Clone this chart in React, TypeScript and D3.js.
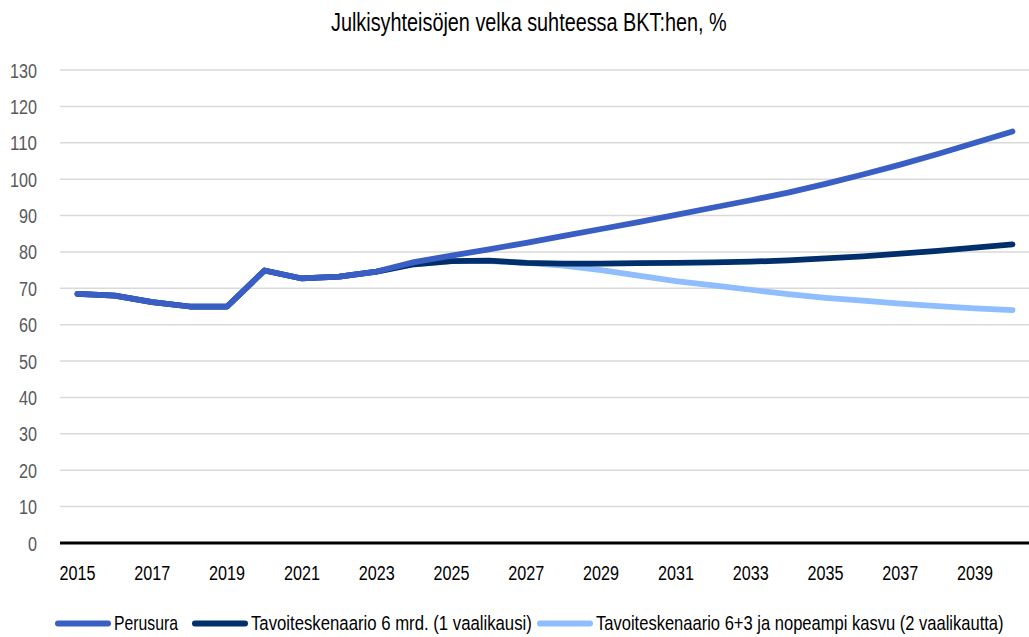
import React, { useEffect, useRef } from "react";
import * as d3 from "d3";

const years = d3.range(2015, 2041);
const yTicks = [0, 10, 20, 30, 40, 50, 60, 70, 80, 90, 100, 110, 120, 130];
const xTickYears = [2015, 2017, 2019, 2021, 2023, 2025, 2027, 2029, 2031, 2033, 2035, 2037, 2039];

// Perusura
const perusura = [
  68.5, 68.0, 66.2, 65.0, 65.0, 74.9, 72.7, 73.2, 74.6, 77.2, 79.0, 80.7, 82.5,
  84.4, 86.3, 88.2, 90.2, 92.2, 94.2, 96.3, 98.7, 101.3, 104.0, 106.9, 110.0, 113.1,
];
// Tavoiteskenaario 6 mrd.
const tavoite6 = [
  68.5, 68.0, 66.2, 65.0, 65.0, 74.9, 72.7, 73.2, 74.6, 76.6, 77.5, 77.6, 77.0,
  76.8, 76.8, 76.9, 77.0, 77.1, 77.3, 77.7, 78.2, 78.8, 79.5, 80.3, 81.2, 82.1,
];
// Tavoiteskenaario 6+3 ja nopeampi kasvu
const tavoite63 = [
  68.5, 68.0, 66.2, 65.0, 65.0, 74.9, 72.7, 73.2, 74.6, 76.6, 77.5, 77.5, 77.0,
  76.2, 75.0, 73.5, 72.0, 70.8, 69.6, 68.4, 67.4, 66.6, 65.8, 65.1, 64.5, 64.0,
];

const seriesNames = [
  "Perusura",
  "Tavoiteskenaario 6 mrd. (1 vaalikausi)",
  "Tavoiteskenaario 6+3 ja nopeampi kasvu (2 vaalikautta)",
];
const colors = ["#3a5fc4", "#002f6c", "#8fbdfd"];

const W = 1029;
const H = 637;
const font = "'Liberation Sans', Arial, sans-serif";

// squeeze a text horizontally to a target width (the original uses a condensed face)
function condensed(g, str, x, y, size, width, fill) {
  const t = g
    .append("text")
    .attr("font-size", size)
    .attr("fill", fill)
    .text(str);
  const w = t.node().getComputedTextLength() || width;
  t.attr("transform", `translate(${x},${y}) scale(${width / w},1)`);
  return t;
}

function App() {
  const svgRef = useRef(null);

  useEffect(() => {
    const svg = d3.select(svgRef.current);
    svg.selectAll("*").remove();

    const x = d3.scalePoint().domain(years.map(String)).range([77.5, 1012.5]);
    const y = d3.scaleLinear().domain([0, 130]).range([543, 70]);

    // title
    condensed(svg, "Julkisyhteisöjen velka suhteessa BKT:hen, %", 331, 30.5, 26, 396, "#000");

    // gridlines
    svg
      .append("g")
      .selectAll("line")
      .data(yTicks.filter((d) => d > 0))
      .join("line")
      .attr("x1", 60)
      .attr("x2", W)
      .attr("y1", (d) => y(d))
      .attr("y2", (d) => y(d))
      .attr("stroke", "#d9d9d9")
      .attr("stroke-width", 1.5);

    // y labels
    const yl = svg.append("g");
    yTicks.forEach((d) => {
      const n = String(d).length;
      condensed(yl, String(d), 37 - n * 9, y(d) + 7.5, 21, n * 9, "#595959");
    });

    // x axis line
    svg
      .append("line")
      .attr("x1", 60)
      .attr("x2", W)
      .attr("y1", y(0))
      .attr("y2", y(0))
      .attr("stroke", "#000")
      .attr("stroke-width", 3);

    // x labels
    const xl = svg.append("g");
    xTickYears.forEach((d) => {
      condensed(xl, String(d), x(String(d)) - 18, 579.5, 20.5, 36, "#000");
    });

    const line = d3
      .line<number>()
      .x((d, i) => x(String(years[i])))
      .y((d) => y(d));

    const all = [perusura, tavoite6, tavoite63];
    [2, 1, 0].forEach((k) => {
      svg
        .append("path")
        .attr("d", line(all[k]))
        .attr("fill", "none")
        .attr("stroke", colors[k])
        .attr("stroke-width", 5.75)
        .attr("stroke-linecap", "round")
        .attr("stroke-linejoin", "round");
    });

    // legend
    const legendX = [55, 192, 537];
    const legendLen = [64, 281, 408];
    const lg = svg.append("g");
    seriesNames.forEach((name, k) => {
      lg.append("line")
        .attr("x1", legendX[k] + 3)
        .attr("x2", legendX[k] + 53)
        .attr("y1", 623.5)
        .attr("y2", 623.5)
        .attr("stroke", colors[k])
        .attr("stroke-width", 6)
        .attr("stroke-linecap", "round");
      condensed(lg, name, legendX[k] + 59, 629.5, 20.5, legendLen[k], "#000");
    });
  }, []);

  return (
    <svg
      ref={svgRef}
      width={W}
      height={H}
      style={{
        position: "absolute",
        left: 0,
        top: 0,
        background: "#fff",
        fontFamily: font,
      }}
    ></svg>
  );
}

export default App;
